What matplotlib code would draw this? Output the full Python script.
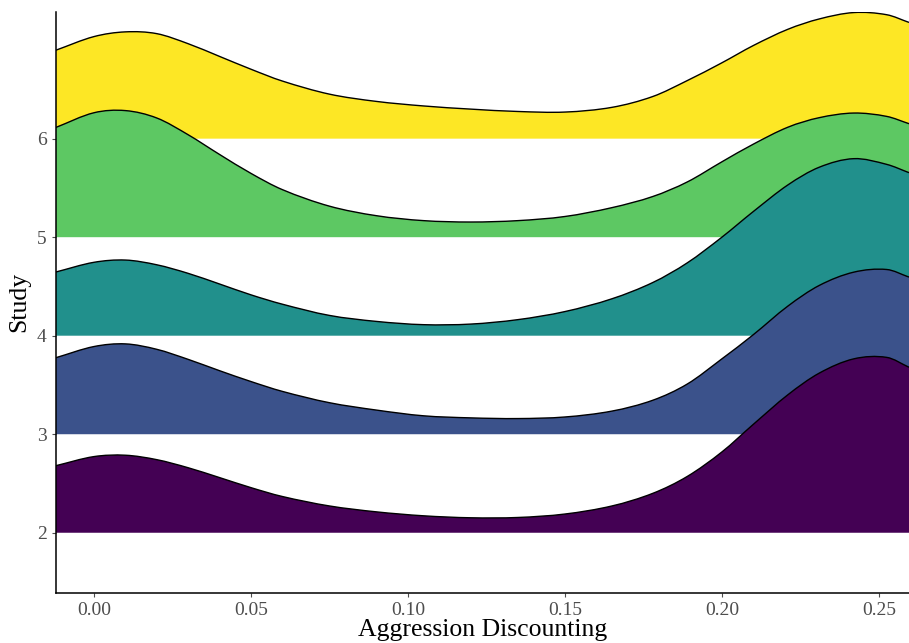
import numpy as np
import matplotlib
matplotlib.use("Agg")
import matplotlib.pyplot as plt
from matplotlib.path import Path
from matplotlib.patches import PathPatch

# =====================================================
# Data (density heights, per study)
# =====================================================
x_grid = [-0.0122, 0.0, 0.01, 0.02, 0.03, 0.04, 0.05, 0.06, 0.075, 0.09,
          0.105, 0.12, 0.135, 0.15, 0.165, 0.178, 0.189, 0.2, 0.21, 0.221,
          0.231, 0.242, 0.2525, 0.2596]

studies = [2, 3, 4, 5, 6]

dens_2 = [0.680, 0.773, 0.787, 0.742, 0.660, 0.560, 0.458, 0.368, 0.272,
          0.212, 0.172, 0.152, 0.155, 0.190, 0.272, 0.400, 0.572, 0.820,
          1.100, 1.400, 1.620, 1.765, 1.780, 1.680]
dens_3 = [0.776, 0.890, 0.917, 0.862, 0.760, 0.645, 0.535, 0.435, 0.320,
          0.245, 0.187, 0.166, 0.159, 0.175, 0.235, 0.345, 0.510, 0.765,
          1.010, 1.300, 1.510, 1.645, 1.672, 1.595]
dens_4 = [0.646, 0.745, 0.768, 0.720, 0.633, 0.525, 0.415, 0.320, 0.206,
          0.145, 0.112, 0.118, 0.163, 0.245, 0.375, 0.540, 0.740, 1.000,
          1.260, 1.530, 1.710, 1.797, 1.739, 1.655]
dens_5 = [1.113, 1.263, 1.285, 1.210, 1.040, 0.840, 0.648, 0.483, 0.315,
          0.218, 0.168, 0.154, 0.168, 0.210, 0.300, 0.413, 0.561, 0.765,
          0.944, 1.116, 1.213, 1.260, 1.226, 1.152]
dens_6 = [0.897, 1.036, 1.084, 1.066, 0.964, 0.835, 0.705, 0.585, 0.452,
          0.378, 0.332, 0.300, 0.276, 0.270, 0.318, 0.428, 0.590, 0.770,
          0.945, 1.110, 1.215, 1.280, 1.258, 1.180]

densities = [dens_2, dens_3, dens_4, dens_5, dens_6]
colors = ["#440154", "#3B528B", "#21908C", "#5DC863", "#FDE725"]

x_ticks = [0.00, 0.05, 0.10, 0.15, 0.20, 0.25]


def smooth_path(xs, ys, base):
    # cubic Hermite through the read points, drawn as Bezier segments
    xs = np.asarray(xs, float)
    ys = np.asarray(ys, float)
    n = len(xs)
    m = np.empty(n)
    m[0] = (ys[1] - ys[0]) / (xs[1] - xs[0])
    m[-1] = (ys[-1] - ys[-2]) / (xs[-1] - xs[-2])
    m[1:-1] = (ys[2:] - ys[:-2]) / (xs[2:] - xs[:-2])
    verts = [(xs[0], ys[0])]
    codes = [Path.MOVETO]
    for i in range(n - 1):
        dx = xs[i + 1] - xs[i]
        c1 = (xs[i] + dx / 3, ys[i] + m[i] * dx / 3)
        c2 = (xs[i + 1] - dx / 3, ys[i + 1] - m[i + 1] * dx / 3)
        verts += [c1, c2, (xs[i + 1], ys[i + 1])]
        codes += [Path.CURVE4] * 3
    top = Path(verts, codes)
    fill_verts = verts + [(xs[-1], base), (xs[0], base), (xs[0], ys[0])]
    fill_codes = codes + [Path.LINETO, Path.LINETO, Path.CLOSEPOLY]
    return top, Path(fill_verts, fill_codes)


plt.rcParams["font.family"] = ["Liberation Serif", "DejaVu Serif"]

fig = plt.figure(figsize=(9.09, 6.43), dpi=100)
ax = fig.add_axes([0.0612, 0.078, 0.9388, 0.904])

# draw top ridge first so lower ridges overlap it
n_ridges = len(studies)
for k in range(n_ridges - 1, -1, -1):
    base = studies[k]
    heights = [base + d for d in densities[k]]
    top, filled = smooth_path(x_grid, heights, base)
    z = 2 + (n_ridges - k)
    ax.add_patch(PathPatch(filled, facecolor=colors[k], edgecolor="none",
                           zorder=z))
    ax.add_patch(PathPatch(top, facecolor="none", edgecolor="black",
                           linewidth=1.0, zorder=z + 0.5))

ax.set_xlim(-0.0122, 0.2596)
ax.set_ylim(1.39, 7.29)
ax.set_xticks(x_ticks)
ax.set_xticklabels([f"{t:.2f}" for t in x_ticks])
ax.set_yticks(studies)

for s in ["top", "right"]:
    ax.spines[s].set_visible(False)
for s in ["left", "bottom"]:
    ax.spines[s].set_linewidth(1.1)
    ax.spines[s].set_zorder(20)

ax.tick_params(axis="both", labelsize=14, colors="#4D4D4D", length=3,
               width=0.8)

ax.set_xlabel("Aggression Discounting", fontsize=18.5, labelpad=0)
ax.set_ylabel("Study", fontsize=18.5, labelpad=5)

plt.savefig("out.png", dpi=100)
